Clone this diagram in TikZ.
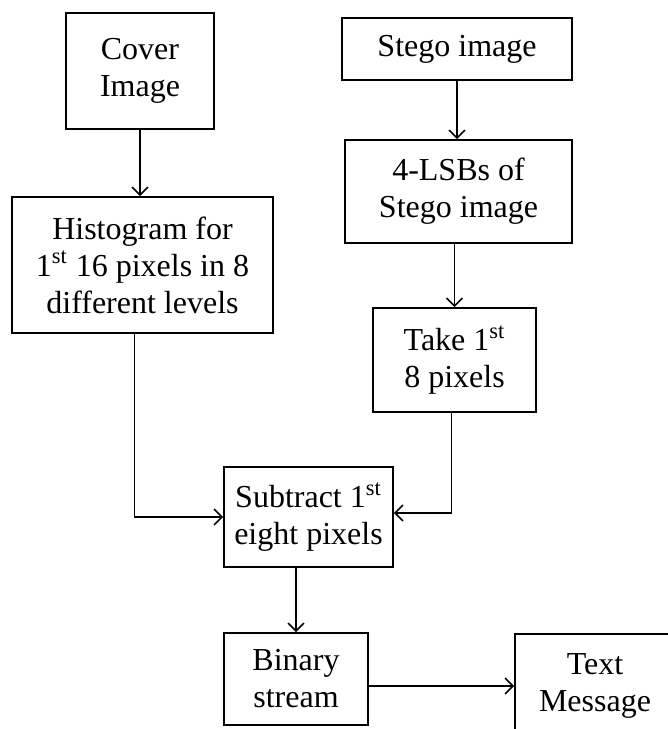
\documentclass[tikz,border=0pt]{standalone}
\usepackage{fontspec}
\setmainfont{Liberation Serif}
\usetikzlibrary{arrows.meta,calc,positioning}

\begin{document}
\begin{tikzpicture}[x=0.5pt,y=-0.5pt,>={Straight Barb[length=4pt,width=8pt]},line cap=round,
 box/.style={draw,line width=0.8pt,align=center,inner sep=0pt,
  font=\fontsize{16}{18.5}\selectfont},
 flow/.style={->,line width=0.8pt}]
\clip (0,0) rectangle (668,729);
% left branch
\node[box,minimum width=74pt,minimum height=58pt] (cover) at (140,71) {Cover\\Image};
\node[box,minimum width=130.5pt,minimum height=68pt] (hist) at (142.5,265)
 {Histogram for\\1\textsuperscript{st} 16 pixels in 8\\different levels};
% right branch
\node[box,minimum width=115pt,minimum height=31pt] (stego) at (457,49) {Stego image};
\node[box,minimum width=113.5pt,minimum height=51.5pt] (lsb) at (458.5,191.5) {4-LSBs of\\Stego image};
\node[box,minimum width=81.5pt,minimum height=52pt] (take) at (454.5,360) {Take 1\textsuperscript{st}\\8 pixels};
% merge and output
\node[box,minimum width=84.5pt,minimum height=50pt] (sub) at (308.5,517) {Subtract 1\textsuperscript{st}\\eight pixels};
\node[box,minimum width=72pt,minimum height=46pt] (bin) at (296,679) {Binary\\stream};
\node[box,minimum width=80pt,minimum height=52pt] (msg) at (595,686) {Text\\Message};
\draw[flow] (cover.south) -- (cover.south |- hist.north);
\draw[flow] (stego.south) -- (stego.south |- lsb.north);
\draw[flow] (lsb.south -| take.north) -- (take.north);
\draw[flow] ([xshift=-4pt]hist.south) |- (sub.west);
\draw[flow] ([xshift=-1.5pt]take.south) |- ([yshift=2pt]sub.east);
\draw[flow] (sub.south -| bin.north) -- (bin.north);
\draw[flow] (msg.west -| bin.east) -- (msg.west);
\end{tikzpicture}
\end{document}
